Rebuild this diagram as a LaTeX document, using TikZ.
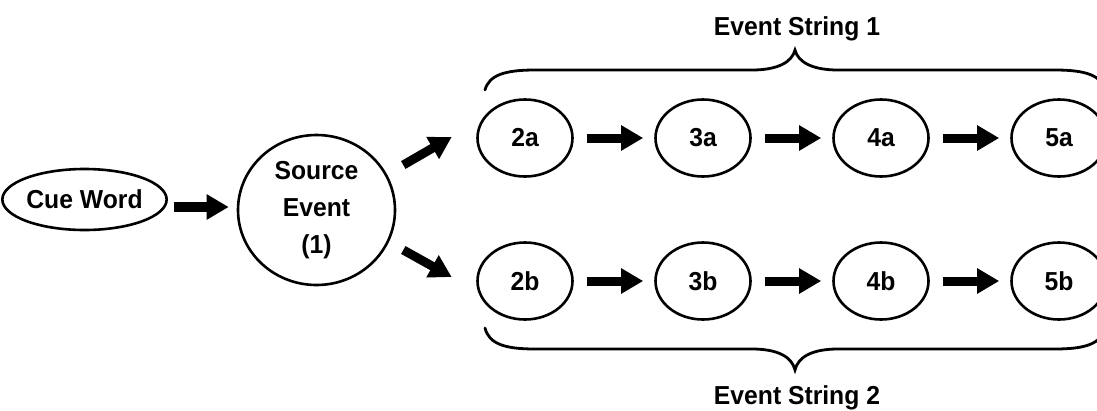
\documentclass[tikz,border=0pt]{standalone}
\usepackage{fontspec}
\setmainfont[FakeStretch=0.95]{Liberation Sans}
\usetikzlibrary{arrows.meta,shapes.geometric}
\begin{document}
\begin{tikzpicture}[x=1pt,y=-1pt,
  every node/.style={font=\fontsize{26}{37}\selectfont\bfseries},
  oval/.style={draw,ellipse,line width=2.6pt,inner sep=0pt,minimum width=95pt,minimum height=77pt},
  arr/.style={line width=9pt,-{Triangle[length=22pt,width=24pt]}},
  bracepath/.style={line width=2.8pt,line cap=round}]
\useasboundingbox (0,0) rectangle (1097,410);
\clip (0,0) rectangle (1097,410);
\node[draw,ellipse,line width=2.6pt,inner sep=0pt,minimum width=159pt,minimum height=61pt] (cue) at (84.5,199.5) {Cue Word};
\node[draw,ellipse,line width=2.6pt,inner sep=0pt,minimum width=157pt,minimum height=150pt,align=center] (src) at (316.5,210) {Source\\Event\\(1)};
\foreach \n/\x in {2/525,3/703,4/881,5/1059}{
  \node[oval] (\n a) at (\x,138) {\n a};
  \node[oval] (\n b) at (\x,281) {\n b};
}
\draw[arr,line width=10pt] ([shift={(6,7.5)}]cue.east) -- ([shift={(-8,-3)}]src.west);
\draw[arr] ([shift={(7,-45)}]src.east) -- ([shift={(-24.5,-1)}]2a.west);
\draw[arr] ([shift={(7,40)}]src.east) -- ([shift={(-24.5,-4)}]2b.west);
\foreach \r in {a,b}{
  \draw[arr,shorten <=13pt,shorten >=11pt] (2\r) -- (3\r);
  \draw[arr,shorten <=13pt,shorten >=11pt] (3\r) -- (4\r);
  \draw[arr,shorten <=13pt,shorten >=11pt] (4\r) -- (5\r);
}
% braces
\draw[bracepath] (485,90) .. controls (489,75) and (505,70) .. (535,70) -- (752,70)
  .. controls (778,70) and (792,62) .. (795,50)
  .. controls (798,62) and (812,70) .. (838,70) -- (1055,70)
  .. controls (1085,70) and (1101,75) .. (1105,90);
\draw[bracepath] (485,328) .. controls (489,344) and (505,349) .. (535,349) -- (752,349)
  .. controls (778,349) and (792,357) .. (795,370)
  .. controls (798,357) and (812,349) .. (838,349) -- (1055,349)
  .. controls (1085,349) and (1101,344) .. (1105,328);
\node[anchor=base,inner sep=0pt] (es1) at (797,35) {Event String 1};
\node[anchor=base,inner sep=0pt] (es2) at (797,404) {Event String 2};
\end{tikzpicture}
\end{document}
